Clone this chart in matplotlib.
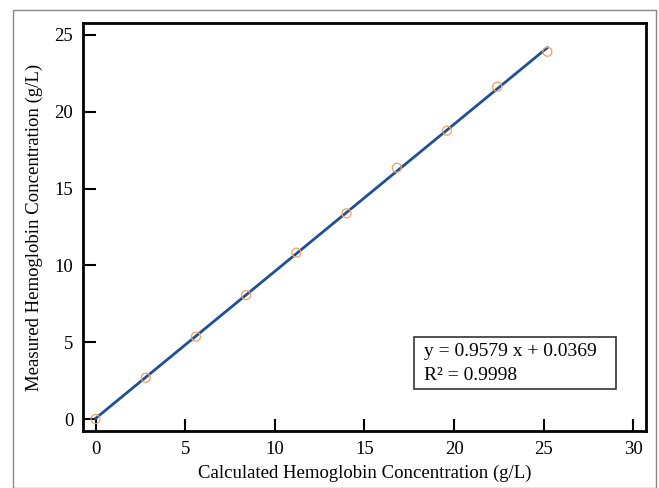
import matplotlib
matplotlib.use("Agg")
import matplotlib.pyplot as plt
import numpy as np
from matplotlib.patches import Rectangle

calculated = [0.0, 2.8, 5.6, 8.4, 11.2, 14.0, 16.8, 19.6, 22.4, 25.2]
measured = [0.0, 2.69, 5.36, 8.07, 10.83, 13.39, 16.36, 18.77, 21.63, 23.91]
slope = 0.9579
intercept = 0.0369
r2 = 0.9998
xticks = [0, 5, 10, 15, 20, 25, 30]
yticks = [0, 5, 10, 15, 20, 25]

plt.rcParams['font.family'] = ['Liberation Serif', 'DejaVu Serif']

fig = plt.figure(figsize=(6.59, 4.88), dpi=100)
W, H = 659, 488
# outer frame
fig.patches.append(Rectangle((13 / W, 0), (656 - 13) / W, (H - 10) / H,
                             transform=fig.transFigure, fill=False,
                             edgecolor='#888888', linewidth=1.0))

ax = fig.add_axes([83 / W, 1 - 431 / H, (646 - 83) / W, (431 - 23) / H])
ax.set_xlim(-0.7, 30.7)
ax.set_ylim(-0.78, 25.78)

xs = np.array([min(calculated), max(calculated)])
ax.plot(xs, slope * xs + intercept, color='#1f4f96', linewidth=2.0, zorder=2)
ax.scatter(calculated, measured, s=42, facecolors='none', edgecolors='#f0a060',
           linewidths=0.9, zorder=3)

ax.set_xticks(xticks)
ax.set_yticks(yticks)
ax.tick_params(direction='in', length=9, width=1.5, labelsize=13.5, pad=7,
               top=False, right=False)
for s in ax.spines.values():
    s.set_linewidth(2.0)
    s.set_color('black')

ax.set_xlabel('Calculated Hemoglobin Concentration (g/L)', fontsize=13.5, labelpad=5)
ax.set_ylabel('Measured Hemoglobin Concentration (g/L)', fontsize=13.5, labelpad=8)

ax.add_patch(Rectangle((0.588, 0.103), 0.359, 0.127, transform=ax.transAxes,
                       facecolor='white', edgecolor='#333333', linewidth=1.2,
                       zorder=4))
ax.text(0.606, 0.194, f'y = {slope} x + {intercept}', transform=ax.transAxes,
        fontsize=14, va='center', ha='left', zorder=5)
ax.text(0.606, 0.137, f'R² = {r2}', transform=ax.transAxes,
        fontsize=14, va='center', ha='left', zorder=5)

fig.savefig('out.png', dpi=100)
